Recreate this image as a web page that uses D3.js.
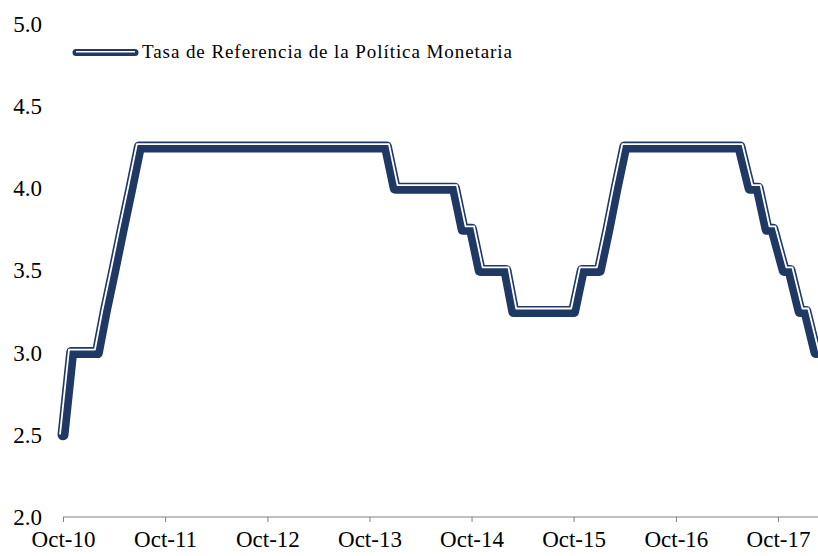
<!DOCTYPE html>
<html>

<head>
    <script src="https://d3js.org/d3.v7.min.js"></script>
    <style>
        body { margin: 0; background: #fff; }
        text { font-family: "Liberation Serif", "Times New Roman", serif; fill: #000; }
        .axis path, .axis line { stroke: #808080; }
    </style>
</head>

<body>
    <script>
        // fechas de cambio y valor de la tasa (%)
        var dates = ["2010-10-01", "2010-11-01", "2011-02-01", "2011-03-01", "2011-04-01", "2011-05-01",
            "2011-06-01", "2011-07-01", "2013-12-01", "2014-01-01", "2014-08-01", "2014-09-01",
            "2014-10-01", "2014-11-01", "2015-02-01", "2015-03-01", "2015-10-01", "2015-11-01",
            "2016-01-01", "2016-02-01", "2016-03-01", "2016-04-01", "2017-05-18", "2017-06-23",
            "2017-07-22", "2017-08-23", "2017-09-13", "2017-10-23", "2017-11-13", "2017-12-19",
            "2018-01-09", "2018-02-14"];
        var rates = [2.5, 3.0, 3.0, 3.25, 3.5, 3.75, 4.0, 4.25, 4.25, 4.0, 4.0, 3.75,
            3.75, 3.5, 3.5, 3.25, 3.25, 3.5, 3.5, 3.75, 4.0, 4.25, 4.25, 4.0,
            4.0, 3.75, 3.75, 3.5, 3.5, 3.25, 3.25, 3.0];
        var xTicks = ["2010-10-01", "2011-10-01", "2012-10-01", "2013-10-01", "2014-10-01",
            "2015-10-01", "2016-10-01", "2017-10-01"];
        var yTicks = [2.0, 2.5, 3.0, 3.5, 4.0, 4.5, 5.0];
        var seriesName = "Tasa de Referencia de la Política Monetaria";

        var width = 818, height = 556;
        var color = "#1f3864";
        var parse = d3.timeParse("%Y-%m-%d");

        var svg = d3.select("body").append("svg")
            .attr("width", width)
            .attr("height", height);

        var x = d3.scaleTime()
            .domain([parse("2010-10-01"), parse("2017-10-01")])
            .range([63, 778]);
        var y = d3.scaleLinear()
            .domain([2, 5])
            .range([517, 23.8]);

        // eje x
        var xAxis = d3.axisBottom(x)
            .tickValues(xTicks.map(parse))
            .tickSize(5)
            .tickSizeOuter(0)
            .tickFormat(d3.timeFormat("%b-%y"));
        var gx = svg.append("g")
            .attr("class", "axis")
            .attr("transform", "translate(0,517)")
            .call(xAxis);
        gx.select(".domain").attr("d", "M63,0H" + width);
        gx.selectAll("text")
            .attr("dy", null)
            .attr("y", 30)
            .style("font-size", "23px");

        // etiquetas eje y (sin linea)
        svg.append("g")
            .selectAll("text")
            .data(yTicks)
            .enter().append("text")
            .attr("x", 42)
            .attr("y", function (d) { return y(d); })
            .attr("dy", "0.35em")
            .attr("text-anchor", "end")
            .style("font-size", "23px")
            .text(function (d) { return d.toFixed(1); });

        var pts = dates.map(function (d, i) { return [x(parse(d)), y(rates[i])]; });

        // desplaza la linea perpendicularmente (lado izquierdo del avance)
        function offset(p, o) {
            var n = p.length;
            function norm(a, b) {
                var dx = b[0] - a[0], dy = b[1] - a[1];
                var l = Math.sqrt(dx * dx + dy * dy) || 1;
                return [dy / l, -dx / l];
            }
            return p.map(function (q, i) {
                var n1 = i > 0 ? norm(p[i - 1], q) : norm(q, p[i + 1]);
                var n2 = i < n - 1 ? norm(q, p[i + 1]) : n1;
                var mx = n1[0] + n2[0], my = n1[1] + n2[1];
                var ml = Math.sqrt(mx * mx + my * my) || 1;
                mx /= ml; my /= ml;
                var k = 1 / Math.max(0.4, mx * n1[0] + my * n1[1]);
                return [q[0] + mx * o * k, q[1] + my * o * k];
            });
        }

        var line = d3.line();

        svg.append("path")
            .attr("d", line(pts))
            .attr("fill", "none")
            .attr("stroke", color)
            .attr("stroke-width", 11)
            .attr("stroke-linejoin", "round")
            .attr("stroke-linecap", "round");

        svg.append("path")
            .attr("d", line(offset(pts, 3)))
            .attr("fill", "none")
            .attr("stroke", "#fff")
            .attr("stroke-width", 1.8)
            .attr("stroke-linejoin", "round");

        // leyenda
        var leg = svg.append("g");
        leg.append("line")
            .attr("x1", 76).attr("x2", 135)
            .attr("y1", 52.5).attr("y2", 52.5)
            .attr("stroke", color)
            .attr("stroke-width", 7)
            .attr("stroke-linecap", "round");
        leg.append("line")
            .attr("x1", 76).attr("x2", 135)
            .attr("y1", 51.8).attr("y2", 51.8)
            .attr("stroke", "#fff")
            .attr("stroke-width", 1.6);
        leg.append("text")
            .attr("x", 142)
            .attr("y", 58)
            .attr("textLength", 370)
            .attr("lengthAdjust", "spacing")
            .style("font-size", "19px")
            .text(seriesName);
    </script>
</body>

</html>
